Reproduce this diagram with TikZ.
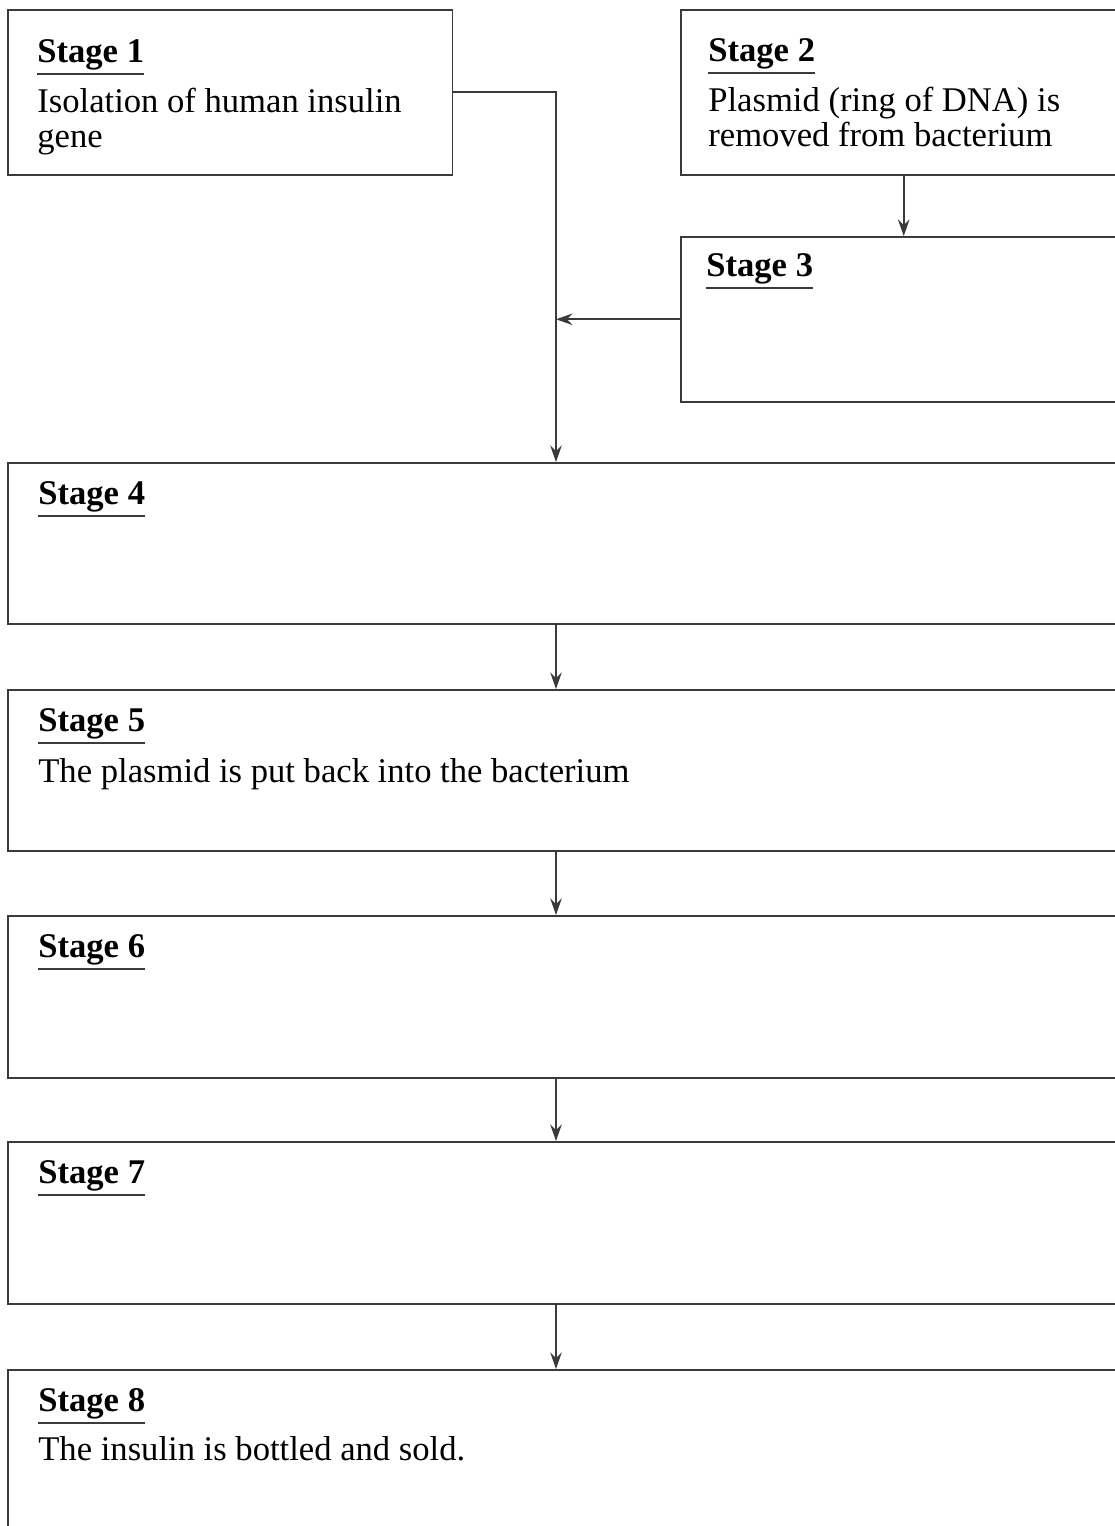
\documentclass[tikz,border=0pt]{standalone}
\usepackage{fontspec}
\setmainfont{Liberation Serif}
\usetikzlibrary{calc,arrows.meta,positioning}
\definecolor{linex}{HTML}{3A3A3A}
\newcommand\stagesize{\fontsize{19.7}{19.6}\selectfont}
\tikzset{
  stagebox/.style={draw=linex,line width=0.9pt,rectangle,inner sep=0pt,anchor=north west},
  hd/.style={font=\stagesize\bfseries,inner sep=0pt,anchor=base west},
  bd/.style={font=\stagesize,inner sep=0pt,anchor=base west,align=left},
  ln/.style={draw=linex,line width=0.8pt},
  ar/.style={-{Stealth[length=3.3mm,width=2.3mm,inset=1.1mm]},draw=linex,line width=0.9pt}
}
\begin{document}
\begin{tikzpicture}[x=0.02cm,y=-0.02cm]
\useasboundingbox (0,0) rectangle (1115,1526);
\clip (0,0) rectangle (1115,1526);
% top row
\node[stagebox,minimum width=8.9cm,minimum height=3.3cm] (s1) at (7,9) {};
\node[stagebox,minimum width=8.92cm,minimum height=3.3cm] (s2) at (680,9) {};
\node[stagebox,minimum width=8.92cm,minimum height=3.3cm] (s3) at (680,236) {};
\node[hd] (h1) at (37,62) {Stage 1};
\node[hd] (h2) at (708,61) {Stage 2};
\node[hd] (h3) at (706,276) {Stage 3};
\node[bd] (t1) at (37,147) {Isolation of human insulin\\gene};
\node[bd] (t2) at (708,146) {Plasmid (ring of DNA) is\\removed from bacterium};
% long boxes
\foreach \n/\yy/\hh in {4/462/3.22,5/689/3.22,6/915/3.24,7/1141/3.24,8/1369/4}{
  \node[stagebox,minimum width=22.46cm,minimum height=\hh cm] (s\n) at (7,\yy) {};
  \node[hd] (h\n) at ($(s\n.north west)+(31,42)$) {Stage \n};
}
\node[bd] (t5) at ($(s5.north west)+(31,93)$) {The plasmid is put back into the bacterium};
\node[bd] (t8) at ($(s8.north west)+(31,91)$) {The insulin is bottled and sold.};
\foreach \n in {1,...,8}
  \draw[ln] ($(h\n.base west)+(0,12)$) -- ($(h\n.base east)+(0,12)$);
% connectors
\coordinate (j) at (556,318);
\draw[ar] (s1.east) -| (s4.north -| j);
\draw[ar] (s2.south) -- (s3.north);
\draw[ar] (s3.west) -- (s3.west -| j);
\foreach \a/\b in {4/5,5/6,6/7,7/8}
  \draw[ar] (s\a.south -| j) -- (s\b.north -| j);
\end{tikzpicture}
\end{document}
